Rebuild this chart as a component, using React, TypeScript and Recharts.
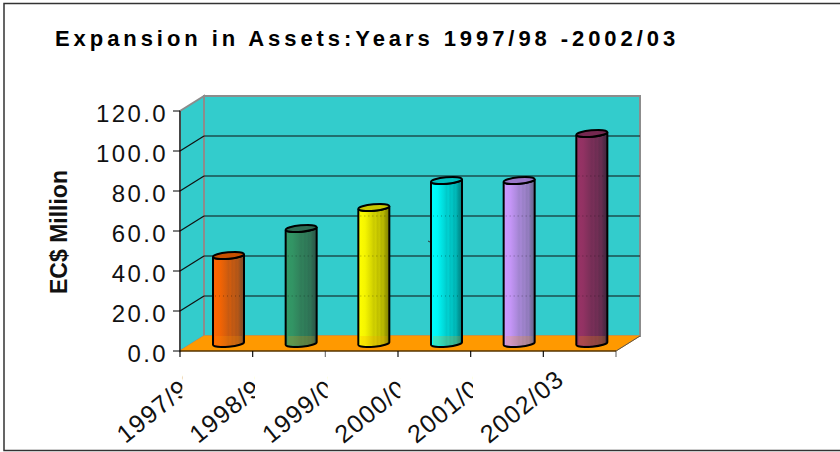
import { Bar, BarChart, XAxis, YAxis, usePlotArea } from "recharts"

const years = ["1997/98", "1998/99", "1999/00", "2000/01", "2001/02", "2002/03"]
const assets = [44, 57.5, 68, 81.5, 81.5, 105]
const yTicks = [0, 20, 40, 60, 80, 100, 120]

// left, right and top-cap colours for each cylinder
const barLight = ["#ff6600", "#339966", "#ffff00", "#00ffff", "#cc99ff", "#993366"]
const barDark = ["#7a4a28", "#2b5548", "#808000", "#008080", "#66668c", "#40283f"]
const barTop = ["#c85000", "#2f6b52", "#c8c800", "#00c0c0", "#9a78c8", "#752850"]

// banded shading across a cylinder: [offset, share of the dark colour]
const shadeBands = [
  [0, 0], [0.22, 0.08], [0.42, 0.3], [0.5, 0.42], [0.56, 0.36], [0.62, 0.5],
  [0.68, 0.44], [0.74, 0.58], [0.8, 0.54], [0.88, 0.78], [1, 1],
]

const chartData = years.map((year, i) => ({ year, assets: assets[i] }))

const DEPTH_X = 24
const DEPTH_Y = 15

function mix(a: string, b: string, t: number) {
  const ch = (s: string, i: number) => parseInt(s.slice(1 + i * 2, 3 + i * 2), 16)
  const parts = [0, 1, 2].map((i) => Math.round(ch(a, i) * (1 - t) + ch(b, i) * t))
  return `rgb(${parts.join(",")})`
}

// back wall, side wall and floor of the 3D box
function Box() {
  const plot = usePlotArea()
  if (!plot) return null
  const { x, y, width, height } = plot
  const bottom = y + height
  const right = x + width
  const levels = yTicks.slice(1, -1).map((t) => bottom - (t / 120) * height)
  const wall = "#33cccc"
  const edge = "#8c8c8c"
  return (
    <g>
      <rect x={x + DEPTH_X} y={y - DEPTH_Y} width={width} height={height} fill={wall} stroke={edge} strokeWidth={2} />
      <polygon
        points={`${x},${bottom} ${x + DEPTH_X},${bottom - DEPTH_Y} ${x + DEPTH_X},${y - DEPTH_Y} ${x},${y}`}
        fill={wall}
        stroke={edge}
        strokeWidth={2}
      />
      <polygon
        points={`${x},${bottom} ${x + DEPTH_X},${bottom - DEPTH_Y} ${right + DEPTH_X},${bottom - DEPTH_Y} ${right},${bottom}`}
        fill="#ff9900"
        stroke="#ff9900"
      />
      <line x1={right} y1={bottom} x2={right + DEPTH_X} y2={bottom - DEPTH_Y} stroke="#555" strokeWidth={1} />
      {levels.map((ly) => (
        <g key={ly}>
          <line x1={x} y1={ly} x2={x + DEPTH_X} y2={ly - DEPTH_Y} stroke="#111" strokeWidth={1.2} />
          <line x1={x + DEPTH_X} y1={ly - DEPTH_Y} x2={right + DEPTH_X} y2={ly - DEPTH_Y} stroke="#111" strokeWidth={1.2} />
        </g>
      ))}
      {years.concat("end").map((_, i) => (
        <line
          key={i}
          x1={x + (i * width) / years.length}
          y1={bottom}
          x2={x + (i * width) / years.length}
          y2={bottom + 6}
          stroke={i === 2 || i === 6 ? "#777" : "#111"}
          strokeWidth={1.2}
        />
      ))}
    </g>
  )
}

function Cylinder(props: any) {
  const { x, y, width, height, index, value } = props
  const rx = width / 2
  const ry = 3.2
  const tilt = 1.4 // the ellipses lean up to the right
  const left = x + DEPTH_X / 2
  const right = left + width
  const top = y - DEPTH_Y / 2
  const base = y + height - DEPTH_Y / 2
  const body =
    `M${left},${top + tilt} L${left},${base + tilt} ` +
    `A${rx},${ry} -5 0 0 ${right},${base - tilt} L${right},${top - tilt} ` +
    `A${rx},${ry} -5 0 1 ${left},${top + tilt} Z`
  const cap =
    `M${left},${top + tilt} A${rx},${ry} -5 0 1 ${right},${top - tilt} ` +
    `A${rx},${ry} -5 0 1 ${left},${top + tilt} Z`
  const perUnit = height / value
  const zero = y + height
  const wallLevels = yTicks.filter((t) => t > 0 && t < 120 && t < value - 6)
  const floorTop = zero - DEPTH_Y
  return (
    <g>
      <path d={body} fill={`url(#cyl${index})`} stroke="none" />
      {/* floor and grid faintly showing through the glass-like body */}
      <rect x={left + 2} y={floorTop} width={width - 4} height={base + 2 - floorTop} fill="#ff9900" opacity={0.22} />
      {wallLevels.map((t) => (
        <line
          key={t}
          x1={left + 2}
          x2={right - 2}
          y1={zero - t * perUnit - DEPTH_Y}
          y2={zero - t * perUnit - DEPTH_Y}
          stroke="#000"
          strokeWidth={1}
          strokeDasharray="1 3"
          opacity={0.35}
        />
      ))}
      <path d={body} fill="none" stroke="#000" strokeWidth={2} />
      <path d={cap} fill={barTop[index]} stroke="#000" strokeWidth={2} />
    </g>
  )
}

// rotated category label, cut off at the edge of its slot (the last one is free)
function YearTick(props: any) {
  const { x, payload, index } = props
  const clipId = `slot${index}`
  const last = index === years.length - 1
  return (
    <g clipPath={last ? undefined : `url(#${clipId})`}>
      <clipPath id={clipId}>
        <rect x={x - 120} y={351} width={120 - 34} height={101} />
      </clipPath>
      <text
        x={x - 14}
        y={382}
        transform={`rotate(-39 ${x - 14} 382)`}
        textAnchor="end"
        fontFamily="Liberation Sans"
        fontSize={25}
        letterSpacing={1.2}
        fill="#111"
      >
        {payload.value}
      </text>
    </g>
  )
}

export default function App() {
  return (
    <div style={{ position: "absolute", left: 0, top: 0, width: 840, height: 452, background: "#fff" }}>
      <BarChart
        width={840}
        height={452}
        data={chartData}
        margin={{ top: 111, right: 224, bottom: 0, left: 0 }}
        barSize={31}
      >
        <defs>
          {barLight.map((c, i) => (
            <linearGradient key={c} id={`cyl${i}`} x1="0" y1="0" x2="1" y2="0">
              {shadeBands.map(([offset, t]) => (
                <stop key={offset} offset={offset} stopColor={mix(c, barDark[i], t)} />
              ))}
            </linearGradient>
          ))}
        </defs>
        <rect x={4} y={3.5} width={850} height={447} fill="none" stroke="#333" strokeWidth={1.5} />
        <Box />
        <line x1={428} y1={241} x2={432} y2={243} stroke="#333" strokeWidth={1} />
        <text
          x={55}
          y={46}
          fontFamily="Liberation Sans"
          fontWeight="bold"
          fontSize={22}
          letterSpacing={3.93}
          fill="#000"
        >
          Expansion in Assets:Years 1997/98 -2002/03
        </text>
        <text
          x={67}
          y={232}
          transform="rotate(-90 67 232)"
          textAnchor="middle"
          fontFamily="Liberation Sans"
          fontWeight="bold"
          fontSize={23}
          fill="#111"
        >
          EC$ Million
        </text>
        <XAxis
          dataKey="year"
          height={101}
          interval={0}
          axisLine={{ stroke: "#000", strokeWidth: 1 }}
          tickLine={false}
          tick={<YearTick />}
        />
        <YAxis
          width={180}
          domain={[0, 120]}
          ticks={yTicks}
          interval={0}
          tickFormatter={(v: number) => v.toFixed(1)}
          axisLine={{ stroke: "#000", strokeWidth: 1 }}
          tickLine={{ stroke: "#000" }}
          tickSize={7}
          tickMargin={5}
          tick={{ fontFamily: "Liberation Sans", fontSize: 24, letterSpacing: 2.4, fill: "#111", dy: 2 }}
        />
        <Bar dataKey="assets" isAnimationActive={false} shape={<Cylinder />} />
      </BarChart>
    </div>
  )
}
